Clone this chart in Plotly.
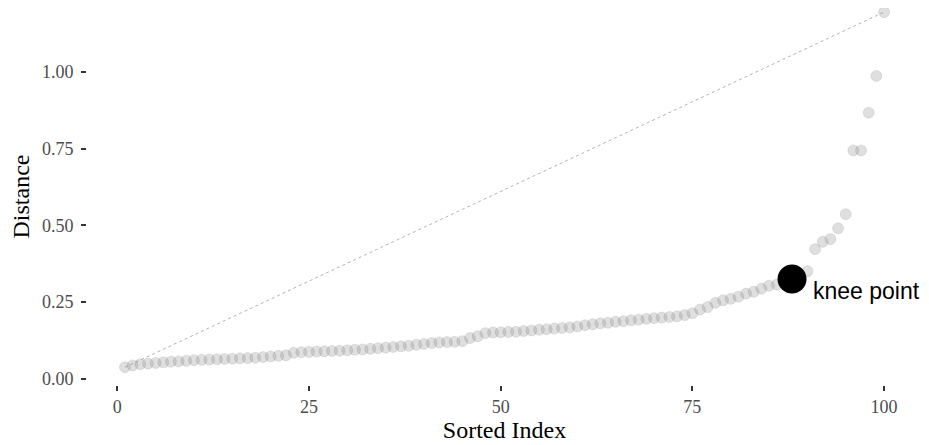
import plotly.graph_objects as go

sorted_index = list(range(1, 101))
distance = [
    0.037, 0.043, 0.047, 0.049, 0.051, 0.053, 0.055, 0.056, 0.058, 0.060,
    0.061, 0.062, 0.063, 0.064, 0.065, 0.066, 0.067, 0.068, 0.070, 0.072,
    0.074, 0.076, 0.084, 0.086, 0.087, 0.088, 0.089, 0.090, 0.091, 0.092,
    0.094, 0.095, 0.097, 0.099, 0.101, 0.103, 0.105, 0.107, 0.110, 0.113,
    0.116, 0.118, 0.119, 0.120, 0.122, 0.132, 0.138, 0.148, 0.150, 0.151,
    0.152, 0.153, 0.155, 0.157, 0.159, 0.161, 0.163, 0.165, 0.167, 0.170,
    0.174, 0.177, 0.180, 0.182, 0.185, 0.187, 0.190, 0.192, 0.195, 0.197,
    0.199, 0.201, 0.203, 0.207, 0.213, 0.225, 0.233, 0.247, 0.255, 0.260,
    0.267, 0.277, 0.283, 0.293, 0.303, 0.306, 0.312, 0.325, 0.335, 0.350,
    0.422, 0.446, 0.455, 0.490, 0.536, 0.744, 0.744, 0.867, 0.987, 1.195,
]
knee_index = 88
knee_label = "knee point"
x_ticks = [0, 25, 50, 75, 100]
y_ticks = [0.0, 0.25, 0.5, 0.75, 1.0]
y_tick_labels = ["0.00", "0.25", "0.50", "0.75", "1.00"]

knee_value = distance[sorted_index.index(knee_index)]

fig = go.Figure()
# reference line from first to last point
fig.add_trace(go.Scatter(
    x=[sorted_index[0], sorted_index[-1]], y=[distance[0], distance[-1]],
    mode="lines", line=dict(color="#666666", width=0.5, dash="dot"),
    hoverinfo="skip", showlegend=False))
fig.add_trace(go.Scatter(
    x=sorted_index, y=distance, mode="markers",
    marker=dict(size=11, color="rgba(127,127,127,0.25)",
                line=dict(width=0.6, color="rgba(110,110,110,0.25)")),
    showlegend=False))
fig.add_trace(go.Scatter(
    x=[knee_index], y=[knee_value], mode="markers",
    marker=dict(size=29, color="black", line=dict(width=0)),
    showlegend=False))
fig.add_annotation(
    x=knee_index, y=knee_value, text=knee_label, showarrow=False,
    xanchor="left", yanchor="middle", xshift=19, yshift=-12,
    font=dict(family="Liberation Sans, Arial, sans-serif", size=23, color="black"))

serif = "Liberation Serif, Times New Roman, serif"
fig.update_layout(
    width=921, height=437,
    margin=dict(l=79, r=7, t=0, b=60),
    plot_bgcolor="white", paper_bgcolor="white",
    font=dict(family=serif),
    xaxis=dict(
        range=[-3.95, 104.95], tickvals=x_ticks,
        ticks="outside", ticklen=5, tickwidth=1.6, tickcolor="#333333",
        tickfont=dict(family=serif, size=18, color="#4d4d4d"),
        showgrid=False, zeroline=False, showline=False,
        title=dict(text="Sorted Index", font=dict(family=serif, size=24, color="black"), standoff=5),
    ),
    yaxis=dict(
        range=[-0.021, 1.2085], tickvals=y_ticks, ticktext=y_tick_labels,
        ticks="outside", ticklen=5, tickwidth=1.6, tickcolor="#333333",
        tickfont=dict(family=serif, size=18, color="#4d4d4d"),
        ticklabelstandoff=4,
        showgrid=False, zeroline=False, showline=False,
        title=dict(text="Distance", font=dict(family=serif, size=24, color="black"), standoff=7),
    ),
)

fig.write_html("out.html")
